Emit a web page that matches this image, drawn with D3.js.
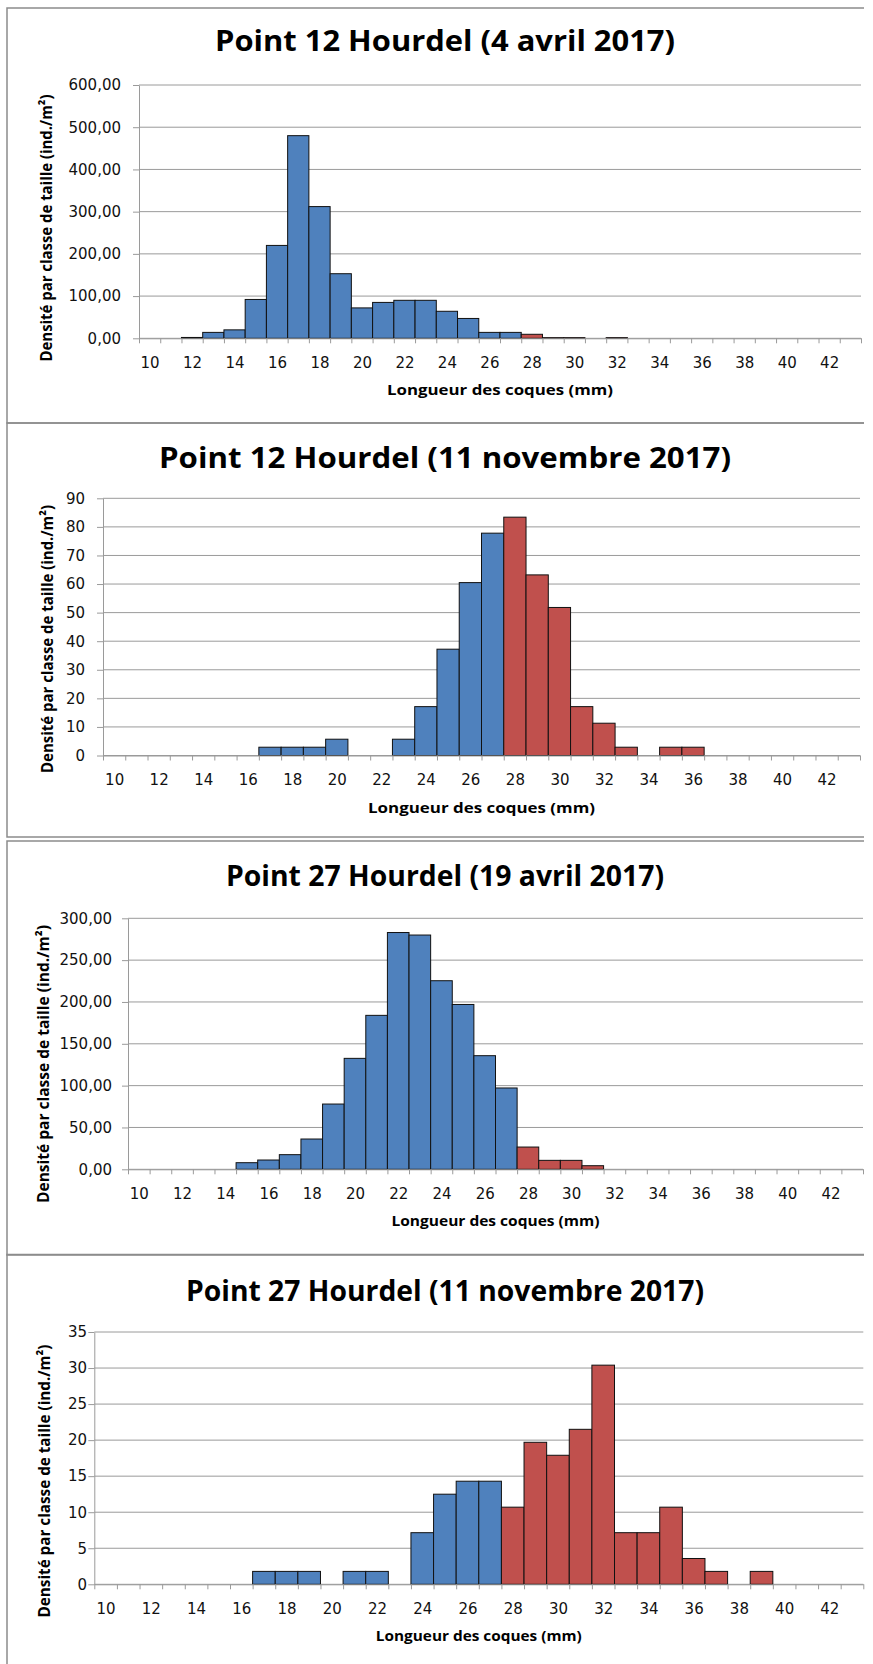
<!DOCTYPE html>
<html>
<head>
<meta charset="utf-8">
<script src="https://cdn.jsdelivr.net/npm/d3@7"></script>
<style>
  body { margin: 0; background: #fff; }
  svg { display: block; }
</style>
</head>
<body>
<script>
// size classes (mm) and the labels shown under the axis
var classes = [10, 11, 12, 13, 14, 15, 16, 17, 18, 19, 20, 21, 22, 23, 24, 25, 26,
               27, 28, 29, 30, 31, 32, 33, 34, 35, 36, 37, 38, 39, 40, 41, 42, 43];
var classLabels = [10, 12, 14, 16, 18, 20, 22, 24, 26, 28, 30, 32, 34, 36, 38, 40, 42];
var splitClass = 28; // from 28 mm bars are drawn red

var titles = [
  "Point 12 Hourdel (4 avril 2017)",
  "Point 12 Hourdel (11 novembre 2017)",
  "Point 27 Hourdel (19 avril 2017)",
  "Point 27 Hourdel (11 novembre 2017)"
];
var xTitle = "Longueur des coques (mm)";
var yTitle = "Densité par classe de taille (ind./m²)";

// densities, one value per size class (10 -> 43 mm)
var p12Avril = [0, 0, 2, 14, 20, 92, 220, 480, 312, 153, 72, 85, 90, 90, 64, 47, 14,
                14, 9.5, 1.5, 1.5, 0, 1.5, 0, 0, 0, 0, 0, 0, 0, 0, 0, 0, 0];
var p12Novembre = [0, 0, 0, 0, 0, 0, 0, 2.9, 2.9, 2.9, 5.7, 0, 0, 5.7, 17.1, 37.2, 60.5,
                   77.8, 83.4, 63.2, 51.8, 17.1, 11.3, 2.9, 0, 2.9, 2.9, 0, 0, 0, 0, 0, 0, 0];
var p27Avril = [0, 0, 0, 0, 0, 7.9, 11.1, 17.5, 36.2, 78, 132.6, 184, 283, 280, 225.4, 197, 135.8,
                97.2, 26.6, 10.7, 10.7, 4.3, 0, 0, 0, 0, 0, 0, 0, 0, 0, 0, 0, 0];
var p27Novembre = [0, 0, 0, 0, 0, 0, 0, 1.79, 1.79, 1.79, 0, 1.79, 1.79, 0, 7.16, 12.5, 14.3,
                   14.3, 10.7, 19.7, 17.9, 21.5, 30.4, 7.16, 7.16, 10.7, 3.58, 1.79, 0, 1.79, 0, 0, 0, 0];

// y axis ticks of each chart
var yTicks1 = [0, 100, 200, 300, 400, 500, 600];
var yTicks2 = [0, 10, 20, 30, 40, 50, 60, 70, 80, 90];
var yTicks3 = [0, 50, 100, 150, 200, 250, 300];
var yTicks4 = [0, 5, 10, 15, 20, 25, 30, 35];

var blue = "#4F81BD";
var red = "#C0504D";
var gridColor = "#9a9a9a";

var comma2 = function (d) { return d.toFixed(2).replace(".", ","); };
var plain = function (d) { return String(d); };

// layout of the four stacked charts
var panels = [
  { title: titles[0], values: p12Avril, ticks: yTicks1, fmt: comma2,
    top: 8, bottom: 423, x0: 139, x1: 861, yTop: 85, yZero: 338.3,
    titleBase: 51, titleLen: 460, labelEnd: 121, yTitleX: 45, yTitleY: 228, yTitleLen: 267, xTitleLen: 226 },
  { title: titles[1], values: p12Novembre, ticks: yTicks2, fmt: plain,
    top: 423, bottom: 837, x0: 103, x1: 860, yTop: 498.3, yZero: 755.5,
    titleBase: 467.5, titleLen: 572, labelEnd: 85, yTitleX: 46, yTitleY: 639, yTitleLen: 268, xTitleLen: 227 },
  { title: titles[2], values: p27Avril, ticks: yTicks3, fmt: comma2,
    top: 841, bottom: 1255, x0: 128, x1: 863, yTop: 918.3, yZero: 1169.3,
    titleBase: 886, titleLen: 438, labelEnd: 112, yTitleX: 42, yTitleY: 1064, yTitleLen: 278, xTitleLen: 208 },
  { title: titles[3], values: p27Novembre, ticks: yTicks4, fmt: plain,
    top: 1254.5, bottom: 1680, x0: 94.3, x1: 863.3, yTop: 1332, yZero: 1584.3,
    titleBase: 1301, titleLen: 518, labelEnd: 87, yTitleX: 43, yTitleY: 1481, yTitleLen: 273, xTitleLen: 206 }
];

var svg = d3.select("body")
    .append("svg")
    .attr("width", 873)
    .attr("height", 1664);

svg.append("rect")
    .attr("width", 873)
    .attr("height", 1664)
    .attr("fill", "#fff");

panels.forEach(function (p) {
    var g = svg.append("g");

    // chart border (no right edge visible in the picture)
    g.append("path")
        .attr("d", "M864," + p.top + "H7V" + p.bottom + "H864")
        .attr("fill", "none")
        .attr("stroke", "#8c8c8c")
        .attr("stroke-width", 1.5);

    var x = d3.scaleLinear()
        .domain([classes[0], classes[classes.length - 1] + 1])
        .range([p.x0, p.x1]);

    var yMax = p.ticks[p.ticks.length - 1];
    var y = d3.scaleLinear()
        .domain([0, yMax])
        .range([p.yZero, p.yTop]);

    // gridlines
    g.selectAll(".grid")
        .data(p.ticks)
        .enter()
        .append("line")
        .attr("x1", p.x0)
        .attr("x2", p.x1)
        .attr("y1", function (d) { return y(d); })
        .attr("y2", function (d) { return y(d); })
        .attr("stroke", gridColor)
        .attr("stroke-width", 1);

    // bars
    var data = classes.map(function (c, i) { return { c: c, v: p.values[i] }; })
        .filter(function (d) { return d.v > 0; });

    g.selectAll(".bar")
        .data(data)
        .enter()
        .append("rect")
        .attr("x", function (d) { return x(d.c); })
        .attr("width", function (d) { return x(d.c + 1) - x(d.c); })
        .attr("y", function (d) { return y(d.v); })
        .attr("height", function (d) { return y(0) - y(d.v); })
        .attr("fill", function (d) { return d.c >= splitClass ? red : blue; })
        .attr("stroke", "#111")
        .attr("stroke-width", 1);

    // x axis: tick marks between classes
    var xTicks = classes.concat([classes[classes.length - 1] + 1]);
    var xAxis = g.append("g")
        .attr("transform", "translate(0," + p.yZero + ")")
        .call(d3.axisBottom(x).tickValues(xTicks).tickSize(5).tickSizeOuter(0).tickFormat(""));
    xAxis.select(".domain").attr("stroke", gridColor);
    xAxis.selectAll(".tick line").attr("stroke", gridColor);

    // x labels centred on every second class
    var xLab = g.append("g")
        .attr("transform", "translate(0," + p.yZero + ")")
        .call(d3.axisBottom(x)
            .tickValues(classLabels.map(function (c) { return c + 0.5; }))
            .tickSize(0)
            .tickPadding(0)
            .tickFormat(function (d) { return Math.floor(d); }));
    xLab.select(".domain").remove();
    xLab.selectAll("text")
        .attr("y", 29.5)
        .attr("dy", null)
        .attr("fill", "#111")
        .style("font-family", "'DejaVu Sans', sans-serif")
        .style("font-size", "15px");

    // y axis
    var yAxis = g.append("g")
        .attr("transform", "translate(" + p.x0 + ",0)")
        .call(d3.axisLeft(y).tickValues(p.ticks).tickSize(6).tickSizeOuter(0)
            .tickPadding(p.x0 - p.labelEnd - 6).tickFormat(p.fmt));
    yAxis.select(".domain").attr("stroke", gridColor);
    yAxis.selectAll(".tick line").attr("stroke", gridColor);
    yAxis.selectAll("text")
        .attr("fill", "#111")
        .style("font-family", "'DejaVu Sans', sans-serif")
        .style("font-size", "15px");

    // titles
    g.append("text")
        .attr("x", 445)
        .attr("y", p.titleBase)
        .attr("text-anchor", "middle")
        .attr("textLength", p.titleLen)
        .attr("lengthAdjust", "spacingAndGlyphs")
        .style("font-family", "'Open Sans', sans-serif")
        .style("font-weight", "bold")
        .style("font-size", "28px")
        .attr("fill", "#000")
        .text(p.title);

    g.append("text")
        .attr("x", (p.x0 + p.x1) / 2)
        .attr("y", p.yZero + 57)
        .attr("text-anchor", "middle")
        .attr("textLength", p.xTitleLen)
        .attr("lengthAdjust", "spacingAndGlyphs")
        .style("font-family", "'Open Sans', sans-serif")
        .style("font-weight", "bold")
        .style("font-size", "14.5px")
        .attr("fill", "#000")
        .text(xTitle);

    g.append("text")
        .attr("transform", "translate(" + p.yTitleX + "," + p.yTitleY + ") rotate(-90)")
        .attr("text-anchor", "middle")
        .attr("dominant-baseline", "central")
        .attr("textLength", p.yTitleLen)
        .attr("lengthAdjust", "spacingAndGlyphs")
        .style("font-family", "'Open Sans', sans-serif")
        .style("font-weight", "bold")
        .style("font-size", "16.5px")
        .attr("fill", "#000")
        .text(yTitle);
});
</script>
</body>
</html>
